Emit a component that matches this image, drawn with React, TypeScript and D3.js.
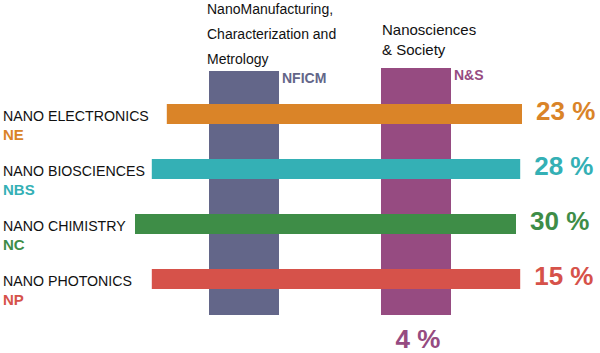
import React, { useEffect, useRef } from "react";
import * as d3 from "d3";

// horizontal themes (rows)
const categories = ["NANO ELECTRONICS", "NANO BIOSCIENCES", "NANO CHIMISTRY", "NANO PHOTONICS"];
const codes = ["NE", "NBS", "NC", "NP"];
const shares = [23, 28, 30, 15];
// where each row bar starts / ends along the track (0..100)
const rowFrom = [27.8, 25.3, 22.5, 25.3];
const rowTo = [87.0, 86.7, 86.0, 86.7];
const rowColors = ["#DA8428", "#34B0B5", "#3E8D47", "#D6524A"];

// vertical themes (columns)
const themes = ["NFICM", "N&S"];
const themeTitles = [
  ["NanoManufacturing,", "Characterization and", "Metrology"],
  ["Nanosciences", "& Society"],
];
const themeShares = [null, 4];
const themeTop = [71, 68];
const themeColors = ["#636689", "#964B81"];

const App = () => {
  const ref = useRef<SVGSVGElement>(null);

  useEffect(() => {
    const width = 600;
    const height = 353;
    document.body.style.margin = "0";

    const svg = d3.select(ref.current).attr("width", width).attr("height", height);
    svg.selectAll("*").remove();

    const font = "'Liberation Sans', Arial, sans-serif";

    const x = d3.scaleLinear().domain([0, 100]).range([0, width]);
    const y = d3.scalePoint().domain(categories).range([114, 279]);
    const barH = 20;

    const cx = d3.scaleBand().domain(themes).range([209, 451]).paddingInner(0.593);
    const colBottom = 315;

    // columns behind the rows
    const cols = svg.append("g");
    cols
      .selectAll("rect")
      .data(themes)
      .join("rect")
      .attr("x", (d) => cx(d)!)
      .attr("y", (d, i) => themeTop[i])
      .attr("width", cx.bandwidth())
      .attr("height", (d, i) => colBottom - themeTop[i])
      .attr("fill", (d, i) => themeColors[i]);

    // column codes
    cols
      .selectAll("text.code")
      .data(themes)
      .join("text")
      .attr("class", "code")
      .attr("x", (d) => cx(d)! + cx.bandwidth() + 3)
      .attr("y", (d, i) => themeTop[i] + 12)
      .attr("font-family", font)
      .attr("font-weight", "bold")
      .attr("font-size", 14)
      .attr("fill", (d, i) => themeColors[i])
      .text((d) => d);

    // column titles
    themes.forEach((t, i) => {
      const lineGap = i === 0 ? 25 : 20;
      const fs = i === 0 ? 14 : 15;
      const lines = themeTitles[i];
      const lastBase = themeTop[i] - (i === 0 ? 7 : 13);
      svg
        .append("g")
        .selectAll("text")
        .data(lines)
        .join("text")
        .attr("x", cx(t)! - (i === 0 ? 2 : -1))
        .attr("y", (d, j) => lastBase - (lines.length - 1 - j) * lineGap)
        .attr("font-family", font)
        .attr("font-size", fs)
        .attr("fill", "#111")
        .text((d) => d);
    });

    // column share under the bar
    svg
      .append("g")
      .selectAll("text")
      .data(themes.filter((d, i) => themeShares[i] != null))
      .join("text")
      .attr("x", (d) => cx(d)! + cx.bandwidth() / 2 + 2)
      .attr("y", 348)
      .attr("text-anchor", "middle")
      .attr("font-family", font)
      .attr("font-weight", "bold")
      .attr("font-size", 26)
      .attr("fill", (d) => themeColors[themes.indexOf(d)])
      .text((d) => `${themeShares[themes.indexOf(d)]} %`);

    // rows
    const rows = svg
      .append("g")
      .selectAll("g")
      .data(categories)
      .join("g");

    rows
      .append("rect")
      .attr("x", (d, i) => x(rowFrom[i]))
      .attr("y", (d) => y(d)! - barH / 2)
      .attr("width", (d, i) => x(rowTo[i]) - x(rowFrom[i]))
      .attr("height", barH)
      .attr("fill", (d, i) => rowColors[i]);

    rows
      .append("text")
      .attr("x", 3)
      .attr("y", (d) => y(d)! + 7)
      .attr("font-family", font)
      .attr("font-size", 14.2)
      .attr("fill", "#111")
      .text((d) => d);

    rows
      .append("text")
      .attr("x", 3)
      .attr("y", (d) => y(d)! + 26)
      .attr("font-family", font)
      .attr("font-weight", "bold")
      .attr("font-size", 15)
      .attr("fill", (d, i) => rowColors[i])
      .text((d, i) => codes[i]);

    rows
      .append("text")
      .attr("x", (d, i) => x(rowTo[i]) + 14)
      .attr("y", (d) => y(d)! + 6)
      .attr("font-family", font)
      .attr("font-weight", "bold")
      .attr("font-size", 26)
      .attr("fill", (d, i) => rowColors[i])
      .text((d, i) => `${shares[i]} %`);
  }, []);

  return (
    <div>
      <svg ref={ref} style={{ display: "block" }}></svg>
    </div>
  );
};

export default App;
